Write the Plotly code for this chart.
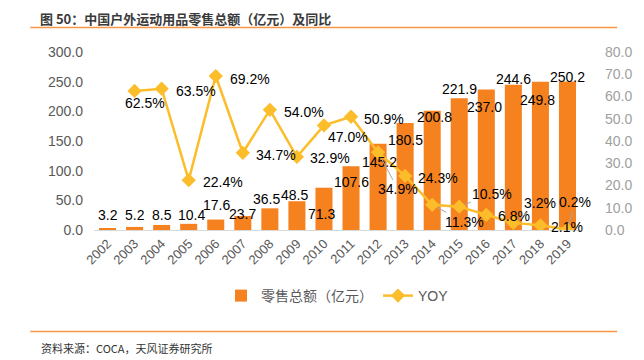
import plotly.graph_objects as go

# ---------------- data ----------------
years = [str(y) for y in range(2002, 2020)]
retail_sales = [3.2, 5.2, 8.5, 10.4, 17.6, 23.7, 36.5, 48.5, 71.3, 107.6,
                145.2, 180.5, 200.8, 221.9, 237.0, 244.6, 249.8, 250.2]
yoy_years = years[1:]
yoy = [62.5, 63.5, 22.4, 69.2, 34.7, 54.0, 32.9, 47.0, 50.9, 34.9,
       24.3, 11.3, 10.5, 6.8, 3.2, 2.1, 0.2]
left_ticks = [0, 50, 100, 150, 200, 250, 300]
right_ticks = [0, 10, 20, 30, 40, 50, 60, 70, 80]

title_text = "图 50：中国户外运动用品零售总额（亿元）及同比"
source_text = "资料来源：COCA，天风证券研究所"
bar_name = "零售总额（亿元）"
line_name = "YOY"

# ---------------- label placement (pixel offsets, style only) ----------------
bar_label_dy = [13, 12, 10, 9, 15, 2, 9, 6, -26, -16, -18, -17, -6, 9, -18, 6, -18, 5]
bar_label_dx = [0, 0, 0, 3, 1, 0, -3, -2, -2, 0, 1, 0, 2, 0, -2, 0, -3, 0]
yoy_label_dx = [10, 34, 34, 34, 33, 34, 33, 24, 33, 20, 33, 32, 33, 28, 27, 27, 8]
yoy_label_dy = [-12, -2, -2, -3, -2, -2, -1, -12, -2, -37, -2, -17, 13, -1, 20, -2, 28]
leader = [False, False, False, False, False, False, False, False, False, True,
          False, True, True, False, True, False, True]

# ---------------- geometry (page has an 8px body margin) ----------------
OFF = 8
PAGE_W, PAGE_H = 644, 360
W, H = PAGE_W - OFF, PAGE_H - OFF
PLOT_L, PLOT_R, PLOT_T, PLOT_B = 94, 606, 52, 230   # page pixels
L = PLOT_L - OFF
R = W - (PLOT_R - OFF)
T = PLOT_T - OFF
B = H - (PLOT_B - OFF)
PW, PH = PLOT_R - PLOT_L, PLOT_B - PLOT_T


def px(xp):
    return (xp - PLOT_L) / PW


def py(yp):
    return (PLOT_B - yp) / PH


BAR_COLOR = "#F5821F"
LINE_COLOR = "#FBBD2A"
FONT = "Liberation Sans, Arial, sans-serif"
CJK = "Noto Sans CJK SC, sans-serif"
MIXED = "Liberation Sans, Noto Sans CJK SC, sans-serif"

fig = go.Figure()
fig.add_trace(go.Bar(
    x=years, y=retail_sales, name=bar_name, marker_color=BAR_COLOR,
    marker_line_width=0, yaxis="y",
))
fig.add_trace(go.Scatter(
    x=yoy_years, y=yoy, name=line_name, mode="lines+markers", yaxis="y2",
    line=dict(color=LINE_COLOR, width=2.5),
    marker=dict(symbol="diamond", size=11, color=LINE_COLOR),
))

annotations = []
for i, v in enumerate(retail_sales):
    annotations.append(dict(
        x=i, y=v, xref="x", yref="y", text=f"{v:.1f}", showarrow=False,
        xshift=bar_label_dx[i], yshift=bar_label_dy[i],
        font=dict(family=FONT, size=14, color="#000000"),
    ))
for i, v in enumerate(yoy):
    xi = years.index(yoy_years[i])
    if leader[i]:
        annotations.append(dict(
            x=xi, y=v, xref="x", yref="y2", text=f"{v:.1f}%", showarrow=True,
            ax=yoy_label_dx[i], ay=-yoy_label_dy[i], arrowhead=0,
            arrowwidth=1, arrowcolor="#A6A6A6", standoff=6,
            font=dict(family=FONT, size=14, color="#000000"),
        ))
    else:
        annotations.append(dict(
            x=xi, y=v, xref="x", yref="y2", text=f"{v:.1f}%", showarrow=False,
            xshift=yoy_label_dx[i], yshift=yoy_label_dy[i],
            font=dict(family=FONT, size=14, color="#000000"),
        ))

annotations.append(dict(
    x=px(36), y=py(OFF + 0.5), xref="paper", yref="paper",
    text="<b>" + title_text + "</b>",
    showarrow=False, xanchor="left", yanchor="top", borderpad=0,
    font=dict(family=CJK, size=13, color="#3A3A3A"),
))
annotations.append(dict(
    x=px(36), y=py(348), xref="paper", yref="paper", text=source_text,
    showarrow=False, xanchor="left", yanchor="middle",
    font=dict(family=CJK, size=11, color="#333333"),
))

shapes = [
    dict(type="line", xref="paper", yref="paper", x0=px(27), x1=px(PAGE_W),
         y0=py(27.5), y1=py(27.5), line=dict(color="#F79646", width=1.5)),
    dict(type="line", xref="paper", yref="paper", x0=px(27), x1=px(PAGE_W),
         y0=py(331.5), y1=py(331.5), line=dict(color="#F79646", width=1.5)),
]

fig.update_layout(
    width=W, height=H, autosize=False,
    margin=dict(l=L, r=R, t=T, b=B, pad=0),
    paper_bgcolor="white", plot_bgcolor="white",
    bargap=0.37,
    showlegend=True,
    legend=dict(orientation="h", x=0.5, xanchor="center", y=py(296), yanchor="middle",
                font=dict(family=MIXED, size=14, color="#595959"),
                bgcolor="rgba(0,0,0,0)", itemwidth=30),
    xaxis=dict(type="category", tickangle=-45, showgrid=False, showline=True,
               linecolor="#D9D9D9", linewidth=1, ticks="",
               tickfont=dict(family=FONT, size=13, color="#595959"),
               range=[-0.5, len(years) - 0.5]),
    yaxis=dict(range=[0, 300], tickvals=left_ticks, tickformat=".1f",
               showgrid=False, zeroline=False, showline=False, ticks="",
               ticklabelstandoff=10,
               tickfont=dict(family=FONT, size=14, color="#595959")),
    yaxis2=dict(range=[0, 80], tickvals=right_ticks, tickformat=".1f", ticksuffix="%",
                overlaying="y", side="right", showgrid=False, zeroline=False,
                showline=False, ticks="", ticklabelstandoff=23,
                tickfont=dict(family=FONT, size=14, color="#A0A0A0")),
    annotations=annotations,
    shapes=shapes,
)

fig.write_html("out.html")
